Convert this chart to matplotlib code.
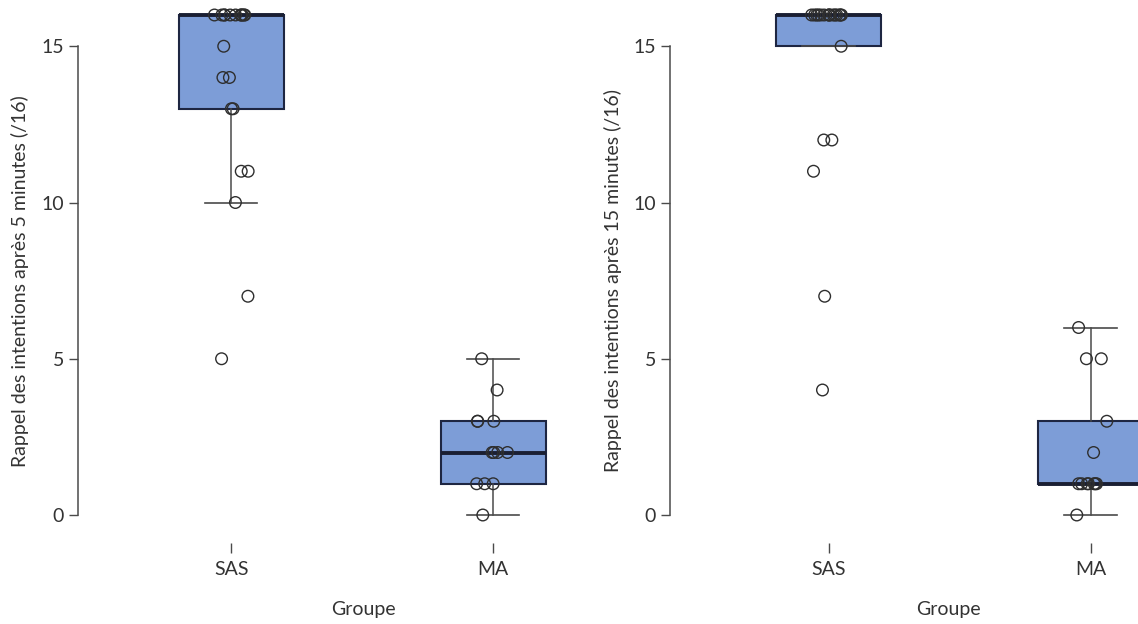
import numpy as np
import matplotlib
matplotlib.use('Agg')
import matplotlib.pyplot as plt

plt.rcParams['font.family'] = ['Lato', 'DejaVu Sans']

# ── Data (recall scores /16) ─────────────────────────────────────────────────
groups = ['SAS', 'MA']

sas_5min = [16] * 11 + [15, 14, 14, 13, 13, 11, 11, 10, 7, 5]
ma_5min = [5, 4, 3, 3, 3, 2, 2, 2, 2, 1, 1, 1, 0]

sas_15min = [16] * 15 + [15, 12, 12, 11, 7, 4]
ma_15min = [6, 5, 5, 3, 2, 1, 1, 1, 1, 1, 1, 1, 0]

ylabels = ['Rappel des intentions après 5 minutes (/16)',
           'Rappel des intentions après 15 minutes (/16)']
yticks = [0, 5, 10, 15]

# ── Style ────────────────────────────────────────────────────────────────────
BOX_FILL = '#7d9dd7'
BOX_EDGE = '#1e2642'
LINE     = '#4a4a4a'
TEXT     = '#333333'
FS       = 14

W, H = 1138, 624
fig = plt.figure(figsize=(W / 100, H / 100), dpi=100)
fig.patch.set_facecolor('white')

rng = np.random.default_rng(7)

def panel(left_px, xlim, data, ylabel, ylab_x_px, xlab_x_px):
    x0, x1 = xlim
    px_per_unit = 262.0
    width_px = (x1 - x0) * px_per_unit
    ax = fig.add_axes([left_px / W, (H - 535) / H, width_px / W, 540 / H])
    ax.set_xlim(x0, x1)
    ax.set_ylim(-0.64, 16.64)
    ax.patch.set_alpha(0)

    bp = ax.boxplot(data, positions=[1, 2], widths=0.4, whis=1.5,
                    showfliers=False, patch_artist=True,
                    boxprops=dict(facecolor=BOX_FILL, edgecolor=BOX_EDGE, linewidth=1.5),
                    medianprops=dict(color='#1a1f33', linewidth=2.8),
                    whiskerprops=dict(color=LINE, linewidth=1.1),
                    capprops=dict(color=LINE, linewidth=1.2),
                    capwidths=0.2)
    for b in bp['boxes']:
        b.set_zorder(1)

    for i, vals in enumerate(data):
        xs = (i + 1) + rng.uniform(-0.065, 0.065, len(vals))
        ax.scatter(xs, vals, s=70, facecolor='none', edgecolor='#2e2e2e',
                   linewidth=1.0, zorder=4, clip_on=False)

    for s in ['top', 'right', 'bottom']:
        ax.spines[s].set_visible(False)
    ax.spines['left'].set_bounds(0, 15)
    ax.spines['left'].set_color(LINE)
    ax.spines['left'].set_linewidth(1.1)
    ax.spines['bottom'].set_position(('outward', 6))

    ax.set_yticks(yticks)
    ax.set_xticks([1, 2])
    ax.set_xticklabels(groups)
    ax.tick_params(axis='y', length=6.5, width=1.0, color=LINE, pad=3.5,
                   labelsize=FS, labelcolor=TEXT)
    ax.tick_params(axis='x', length=7, width=1.0, color=LINE, pad=6,
                   labelsize=FS, labelcolor=TEXT)

    fig.text(xlab_x_px / W, (H - 610) / H, 'Groupe', ha='center',
             va='center', fontsize=FS, color=TEXT)
    fig.text(ylab_x_px / W, (H - 281) / H, ylabel, rotation=90,
             ha='center', va='center', fontsize=FS, color=TEXT)
    return ax

panel(78, (0.415, 2.585), [sas_5min, ma_5min], ylabels[0], 20, 363)
panel(670, (0.395, 2.585), [sas_15min, ma_15min], ylabels[1], 613, 948)

fig.savefig('out.png', dpi=100, facecolor='white')
